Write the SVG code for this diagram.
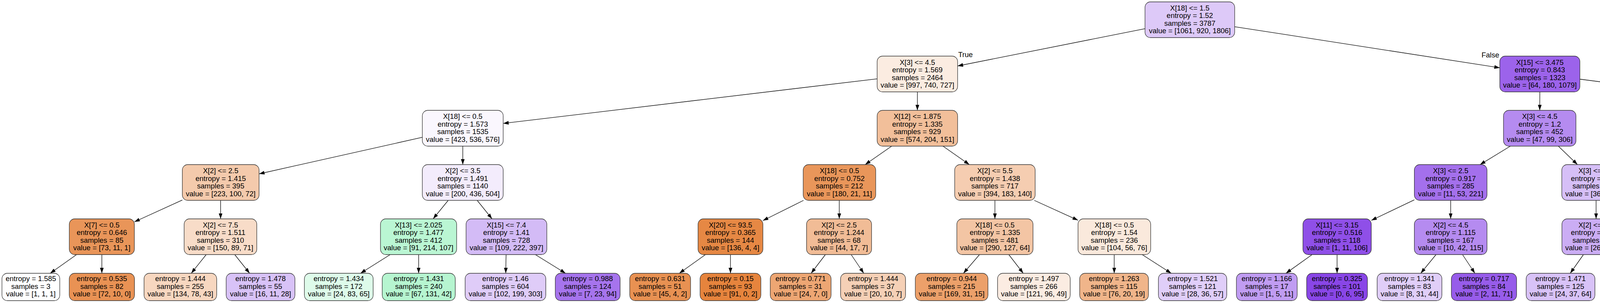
<svg xmlns="http://www.w3.org/2000/svg" width="5756" height="775" viewBox="0 0 5756 775">
<style>
.n rect{stroke:#333333;stroke-width:1.3}
text{font-family:"Liberation Sans",Arial,Helvetica,sans-serif;font-size:18.5px;text-anchor:middle;fill:#000000}
.lbl{text-anchor:start}
.lblr{text-anchor:end}
#edges line{stroke:#000000;stroke-width:1.3;marker-end:url(#arr)}
</style>
<defs>
<marker id="arr" markerUnits="userSpaceOnUse" markerWidth="14" markerHeight="10" refX="14" refY="4.75" orient="auto">
<path d="M0,0 L14,4.75 L0,9.5 z" fill="#000000"/>
</marker>
</defs>
<rect x="0" y="0" width="5756" height="775" fill="#ffffff"/>
<g id="edges">
<line x1="2931.25" y1="73.33" x2="2451.5" y2="168.76"/>
<line x1="3160.75" y1="68.27" x2="3839.5" y2="173.38"/>
<line x1="2245.5" y1="201.53" x2="1288.2" y2="315.66"/>
<line x1="2348.5" y1="235" x2="2348.5" y2="282.25"/>
<line x1="3942" y1="235" x2="3941.7" y2="282.25"/>
<line x1="4044.5" y1="202.5" x2="4921.7" y2="315.91"/>
<line x1="1081.2" y1="351.17" x2="663.25" y2="444.75"/>
<line x1="1184.7" y1="373.75" x2="1184.7" y2="421"/>
<line x1="2282.7" y1="373.75" x2="2214.8" y2="421"/>
<line x1="2413.95" y1="373.75" x2="2481.55" y2="421"/>
<line x1="3866.5" y1="373.75" x2="3788.9" y2="421"/>
<line x1="3989.3" y1="373.75" x2="4038.4" y2="421"/>
<line x1="5015.2" y1="373.75" x2="5015.2" y2="421"/>
<line x1="5108.7" y1="355.58" x2="5402.6" y2="442.27"/>
<line x1="466.75" y1="511.55" x2="344" y2="567.52"/>
<line x1="564.7" y1="512.5" x2="564.7" y2="559.75"/>
<line x1="1147.4" y1="512.5" x2="1108.8" y2="559.75"/>
<line x1="1221.56" y1="512.5" x2="1259.64" y2="559.75"/>
<line x1="2057" y1="512.5" x2="1953" y2="564.22"/>
<line x1="2148.5" y1="512.5" x2="2148.5" y2="559.75"/>
<line x1="2547" y1="512.5" x2="2547" y2="559.75"/>
<line x1="2647.8" y1="512.5" x2="2759.7" y2="563.29"/>
<line x1="3620.7" y1="511.14" x2="3510.5" y2="563.74"/>
<line x1="3713.7" y1="512.5" x2="3713.7" y2="559.75"/>
<line x1="4086" y1="512.5" x2="4086" y2="559.75"/>
<line x1="4173.75" y1="510.23" x2="4288.2" y2="566.95"/>
<line x1="4981.17" y1="512.5" x2="4946.03" y2="559.75"/>
<line x1="5049.1" y1="512.5" x2="5084.1" y2="559.75"/>
<line x1="5485.6" y1="512.5" x2="5485.6" y2="559.75"/>
<line x1="5545.3" y1="512.5" x2="5621" y2="570.5"/>
<line x1="196" y1="651.25" x2="128.49" y2="699"/>
<line x1="260.7" y1="651.25" x2="260.7" y2="699"/>
<line x1="527.84" y1="651.25" x2="489.67" y2="699"/>
<line x1="600.93" y1="651.25" x2="639.06" y2="699"/>
<line x1="998.8" y1="651.25" x2="922.92" y2="699"/>
<line x1="1071.7" y1="651.25" x2="1071.7" y2="699"/>
<line x1="1295.6" y1="651.25" x2="1294.7" y2="699"/>
<line x1="1370.55" y1="651.25" x2="1447.85" y2="699"/>
<line x1="1805.91" y1="651.25" x2="1739.03" y2="699"/>
<line x1="1870" y1="651.25" x2="1870" y2="699"/>
<line x1="2113" y1="651.25" x2="2076.47" y2="699"/>
<line x1="2178.97" y1="651.25" x2="2211.3" y2="699"/>
<line x1="2507.55" y1="651.25" x2="2466.38" y2="699"/>
<line x1="2582.5" y1="651.25" x2="2619.54" y2="699"/>
<line x1="2852.4" y1="651.25" x2="2852.4" y2="699"/>
<line x1="2924.01" y1="651.25" x2="2998.44" y2="699"/>
<line x1="3358.91" y1="651.25" x2="3291.97" y2="699"/>
<line x1="3422.9" y1="651.25" x2="3422.9" y2="699"/>
<line x1="3676.21" y1="651.25" x2="3637.08" y2="699"/>
<line x1="3744.07" y1="651.25" x2="3775.77" y2="699"/>
<line x1="4053.6" y1="651.25" x2="4019.79" y2="699"/>
<line x1="4121.6" y1="651.25" x2="4158.76" y2="699"/>
<line x1="4366" y1="651.25" x2="4366" y2="699"/>
<line x1="4428.59" y1="651.25" x2="4493.92" y2="699"/>
<line x1="4846.13" y1="651.25" x2="4777.39" y2="699"/>
<line x1="4915.85" y1="651.25" x2="4919.86" y2="699"/>
<line x1="5114.7" y1="651.25" x2="5111.2" y2="699"/>
<line x1="5182.44" y1="651.25" x2="5249.7" y2="699"/>
<line x1="5485.8" y1="651.25" x2="5485.8" y2="699"/>
<line x1="5550.29" y1="651.25" x2="5617.81" y2="699"/>
<text class="lbl" x="2453" y="146">True</text>
<text class="lblr" x="3838" y="147">False</text>
</g>
<g id="n0" class="n"><rect x="2931.25" y="4.75" width="229.5" height="91.5" rx="14" fill="#ddc9f8"/><text x="3046" y="26.8"><tspan x="3046">X[18] &lt;= 1.5</tspan><tspan x="3046" dy="19.5">entropy = 1.52</tspan><tspan x="3046" dy="19.5">samples = 3787</tspan><tspan x="3046" dy="19.5">value = [1061, 920, 1806]</tspan></text></g>
<g id="n1" class="n"><rect x="2245.5" y="143.5" width="206" height="91.5" rx="14" fill="#fbece1"/><text x="2348.5" y="165.55"><tspan x="2348.5">X[3] &lt;= 4.5</tspan><tspan x="2348.5" dy="19.5">entropy = 1.569</tspan><tspan x="2348.5" dy="19.5">samples = 2464</tspan><tspan x="2348.5" dy="19.5">value = [997, 740, 727]</tspan></text></g>
<g id="n2" class="n"><rect x="3839.5" y="143.5" width="205" height="91.5" rx="14" fill="#9c63eb"/><text x="3942" y="165.55"><tspan x="3942">X[15] &lt;= 3.475</tspan><tspan x="3942" dy="19.5">entropy = 0.843</tspan><tspan x="3942" dy="19.5">samples = 1323</tspan><tspan x="3942" dy="19.5">value = [64, 180, 1079]</tspan></text></g>
<g id="n3" class="n"><rect x="1081.2" y="282.25" width="207" height="91.5" rx="14" fill="#faf7fe"/><text x="1184.7" y="304.3"><tspan x="1184.7">X[18] &lt;= 0.5</tspan><tspan x="1184.7" dy="19.5">entropy = 1.573</tspan><tspan x="1184.7" dy="19.5">samples = 1535</tspan><tspan x="1184.7" dy="19.5">value = [423, 536, 576]</tspan></text></g>
<g id="n4" class="n"><rect x="2245.5" y="282.25" width="206" height="91.5" rx="14" fill="#f2bf9a"/><text x="2348.5" y="304.3"><tspan x="2348.5">X[12] &lt;= 1.875</tspan><tspan x="2348.5" dy="19.5">entropy = 1.335</tspan><tspan x="2348.5" dy="19.5">samples = 929</tspan><tspan x="2348.5" dy="19.5">value = [574, 204, 151]</tspan></text></g>
<g id="n5" class="n"><rect x="3848.95" y="282.25" width="185.5" height="91.5" rx="14" fill="#b58bf0"/><text x="3941.7" y="304.3"><tspan x="3941.7">X[3] &lt;= 4.5</tspan><tspan x="3941.7" dy="19.5">entropy = 1.2</tspan><tspan x="3941.7" dy="19.5">samples = 452</tspan><tspan x="3941.7" dy="19.5">value = [47, 99, 306]</tspan></text></g>
<g id="n6" class="n"><rect x="4921.7" y="282.25" width="187" height="91.5" rx="14" fill="#9152e8"/><text x="5015.2" y="304.3"><tspan x="5015.2">X[11] &lt;= 4.55</tspan><tspan x="5015.2" dy="19.5">entropy = 0.582</tspan><tspan x="5015.2" dy="19.5">samples = 871</tspan><tspan x="5015.2" dy="19.5">value = [17, 81, 773]</tspan></text></g>
<g id="n7" class="n"><rect x="466.75" y="421" width="196.5" height="91.5" rx="14" fill="#f4caac"/><text x="565" y="443.05"><tspan x="565">X[2] &lt;= 2.5</tspan><tspan x="565" dy="19.5">entropy = 1.415</tspan><tspan x="565" dy="19.5">samples = 395</tspan><tspan x="565" dy="19.5">value = [223, 100, 72]</tspan></text></g>
<g id="n8" class="n"><rect x="1081.2" y="421" width="207" height="91.5" rx="14" fill="#f3ecfc"/><text x="1184.7" y="443.05"><tspan x="1184.7">X[2] &lt;= 3.5</tspan><tspan x="1184.7" dy="19.5">entropy = 1.491</tspan><tspan x="1184.7" dy="19.5">samples = 1140</tspan><tspan x="1184.7" dy="19.5">value = [200, 436, 504]</tspan></text></g>
<g id="n9" class="n"><rect x="2056.2" y="421" width="185.6" height="91.5" rx="14" fill="#e9965a"/><text x="2149" y="443.05"><tspan x="2149">X[18] &lt;= 0.5</tspan><tspan x="2149" dy="19.5">entropy = 0.752</tspan><tspan x="2149" dy="19.5">samples = 212</tspan><tspan x="2149" dy="19.5">value = [180, 21, 11]</tspan></text></g>
<g id="n10" class="n"><rect x="2444" y="421" width="206" height="91.5" rx="14" fill="#f5cdb1"/><text x="2547" y="443.05"><tspan x="2547">X[2] &lt;= 5.5</tspan><tspan x="2547" dy="19.5">entropy = 1.438</tspan><tspan x="2547" dy="19.5">samples = 717</tspan><tspan x="2547" dy="19.5">value = [394, 183, 140]</tspan></text></g>
<g id="n11" class="n"><rect x="3620.7" y="421" width="186" height="91.5" rx="14" fill="#a470ec"/><text x="3713.7" y="443.05"><tspan x="3713.7">X[3] &lt;= 2.5</tspan><tspan x="3713.7" dy="19.5">entropy = 0.917</tspan><tspan x="3713.7" dy="19.5">samples = 285</tspan><tspan x="3713.7" dy="19.5">value = [11, 53, 221]</tspan></text></g>
<g id="n12" class="n"><rect x="3998.25" y="421" width="175.5" height="91.5" rx="14" fill="#d6bff7"/><text x="4086" y="443.05"><tspan x="4086">X[3] &lt;= 8.5</tspan><tspan x="4086" dy="19.5">entropy = 1.486</tspan><tspan x="4086" dy="19.5">samples = 167</tspan><tspan x="4086" dy="19.5">value = [36, 46, 85]</tspan></text></g>
<g id="n13" class="n"><rect x="4921.7" y="421" width="187" height="91.5" rx="14" fill="#975bea"/><text x="5015.2" y="443.05"><tspan x="5015.2">X[2] &lt;= 4.5</tspan><tspan x="5015.2" dy="19.5">entropy = 0.722</tspan><tspan x="5015.2" dy="19.5">samples = 603</tspan><tspan x="5015.2" dy="19.5">value = [17, 75, 511]</tspan></text></g>
<g id="n14" class="n"><rect x="5402.6" y="421" width="166" height="91.5" rx="14" fill="#843ee6"/><text x="5485.6" y="443.05"><tspan x="5485.6">X[4] &lt;= 20.5</tspan><tspan x="5485.6" dy="19.5">entropy = 0.155</tspan><tspan x="5485.6" dy="19.5">samples = 268</tspan><tspan x="5485.6" dy="19.5">value = [0, 6, 262]</tspan></text></g>
<g id="n15" class="n"><rect x="177.4" y="559.75" width="166.6" height="91.5" rx="14" fill="#e99559"/><text x="260.7" y="581.8"><tspan x="260.7">X[7] &lt;= 0.5</tspan><tspan x="260.7" dy="19.5">entropy = 0.646</tspan><tspan x="260.7" dy="19.5">samples = 85</tspan><tspan x="260.7" dy="19.5">value = [73, 11, 1]</tspan></text></g>
<g id="n16" class="n"><rect x="471.4" y="559.75" width="186" height="91.5" rx="14" fill="#f8dcc8"/><text x="564.4" y="581.8"><tspan x="564.4">X[2] &lt;= 7.5</tspan><tspan x="564.4" dy="19.5">entropy = 1.511</tspan><tspan x="564.4" dy="19.5">samples = 310</tspan><tspan x="564.4" dy="19.5">value = [150, 89, 71]</tspan></text></g>
<g id="n17" class="n"><rect x="974" y="559.75" width="195" height="91.5" rx="14" fill="#baf6d3"/><text x="1071.5" y="581.8"><tspan x="1071.5">X[13] &lt;= 2.025</tspan><tspan x="1071.5" dy="19.5">entropy = 1.477</tspan><tspan x="1071.5" dy="19.5">samples = 412</tspan><tspan x="1071.5" dy="19.5">value = [91, 214, 107]</tspan></text></g>
<g id="n18" class="n"><rect x="1193.15" y="559.75" width="206.7" height="91.5" rx="14" fill="#d3bbf6"/><text x="1296.5" y="581.8"><tspan x="1296.5">X[15] &lt;= 7.4</tspan><tspan x="1296.5" dy="19.5">entropy = 1.41</tspan><tspan x="1296.5" dy="19.5">samples = 728</tspan><tspan x="1296.5" dy="19.5">value = [109, 222, 397]</tspan></text></g>
<g id="n19" class="n"><rect x="1787" y="559.75" width="166" height="91.5" rx="14" fill="#e68844"/><text x="1870" y="581.8"><tspan x="1870">X[20] &lt;= 93.5</tspan><tspan x="1870" dy="19.5">entropy = 0.365</tspan><tspan x="1870" dy="19.5">samples = 144</tspan><tspan x="1870" dy="19.5">value = [136, 4, 4]</tspan></text></g>
<g id="n20" class="n"><rect x="2064.75" y="559.75" width="166.5" height="91.5" rx="14" fill="#f1bc96"/><text x="2148" y="581.8"><tspan x="2148">X[2] &lt;= 2.5</tspan><tspan x="2148" dy="19.5">entropy = 1.244</tspan><tspan x="2148" dy="19.5">samples = 68</tspan><tspan x="2148" dy="19.5">value = [44, 17, 7]</tspan></text></g>
<g id="n21" class="n"><rect x="2449.5" y="559.75" width="195" height="91.5" rx="14" fill="#f3c5a4"/><text x="2547" y="581.8"><tspan x="2547">X[18] &lt;= 0.5</tspan><tspan x="2547" dy="19.5">entropy = 1.335</tspan><tspan x="2547" dy="19.5">samples = 481</tspan><tspan x="2547" dy="19.5">value = [290, 127, 64]</tspan></text></g>
<g id="n22" class="n"><rect x="2759.7" y="559.75" width="186" height="91.5" rx="14" fill="#fae9dc"/><text x="2852.7" y="581.8"><tspan x="2852.7">X[18] &lt;= 0.5</tspan><tspan x="2852.7" dy="19.5">entropy = 1.54</tspan><tspan x="2852.7" dy="19.5">samples = 236</tspan><tspan x="2852.7" dy="19.5">value = [104, 56, 76]</tspan></text></g>
<g id="n23" class="n"><rect x="3335.5" y="559.75" width="175" height="91.5" rx="14" fill="#8f4fe8"/><text x="3423" y="581.8"><tspan x="3423">X[11] &lt;= 3.15</tspan><tspan x="3423" dy="19.5">entropy = 0.516</tspan><tspan x="3423" dy="19.5">samples = 118</tspan><tspan x="3423" dy="19.5">value = [1, 11, 106]</tspan></text></g>
<g id="n24" class="n"><rect x="3620.7" y="559.75" width="186" height="91.5" rx="14" fill="#b58bf0"/><text x="3713.7" y="581.8"><tspan x="3713.7">X[2] &lt;= 4.5</tspan><tspan x="3713.7" dy="19.5">entropy = 1.115</tspan><tspan x="3713.7" dy="19.5">samples = 167</tspan><tspan x="3713.7" dy="19.5">value = [10, 42, 115]</tspan></text></g>
<g id="n25" class="n"><rect x="3998.5" y="559.75" width="175" height="91.5" rx="14" fill="#cbadf4"/><text x="4086" y="581.8"><tspan x="4086">X[2] &lt;= 6.5</tspan><tspan x="4086" dy="19.5">entropy = 1.412</tspan><tspan x="4086" dy="19.5">samples = 147</tspan><tspan x="4086" dy="19.5">value = [26, 38, 83]</tspan></text></g>
<g id="n26" class="n"><rect x="4288.2" y="559.75" width="155.6" height="91.5" rx="14" fill="#fbeade"/><text x="4366" y="581.8"><tspan x="4366">X[1] &lt;= 28.0</tspan><tspan x="4366" dy="19.5">entropy = 1.361</tspan><tspan x="4366" dy="19.5">samples = 20</tspan><tspan x="4366" dy="19.5">value = [10, 8, 2]</tspan></text></g>
<g id="n27" class="n"><rect x="4819" y="559.75" width="186" height="91.5" rx="14" fill="#aa79ed"/><text x="4912" y="581.8"><tspan x="4912">X[3] &lt;= 4.5</tspan><tspan x="4912" dy="19.5">entropy = 1.045</tspan><tspan x="4912" dy="19.5">samples = 173</tspan><tspan x="4912" dy="19.5">value = [12, 33, 128]</tspan></text></g>
<g id="n28" class="n"><rect x="5030.3" y="559.75" width="175.4" height="91.5" rx="14" fill="#9051e8"/><text x="5118" y="581.8"><tspan x="5118">X[6] &lt;= 0.5</tspan><tspan x="5118" dy="19.5">entropy = 0.551</tspan><tspan x="5118" dy="19.5">samples = 430</tspan><tspan x="5118" dy="19.5">value = [5, 42, 383]</tspan></text></g>
<g id="n29" class="n"><rect x="5402.6" y="559.75" width="166" height="91.5" rx="14" fill="#823be5"/><text x="5485.6" y="581.8"><tspan x="5485.6">X[2] &lt;= 2.5</tspan><tspan x="5485.6" dy="19.5">entropy = 0.065</tspan><tspan x="5485.6" dy="19.5">samples = 260</tspan><tspan x="5485.6" dy="19.5">value = [0, 2, 258]</tspan></text></g>
<g id="n30" class="n"><rect x="5593.4" y="570.5" width="146.6" height="70" rx="14" fill="#ffffff"/><text x="5666.7" y="590.5"><tspan x="5666.7">entropy = 1.0</tspan><tspan x="5666.7" dy="19.6">samples = 8</tspan><tspan x="5666.7" dy="19.6">value = [0, 4, 4]</tspan></text></g>
<g id="l1" class="n"><rect x="5" y="699" width="148" height="70" rx="14" fill="#ffffff"/><text x="79" y="719"><tspan x="79">entropy = 1.585</tspan><tspan x="79" dy="19.6">samples = 3</tspan><tspan x="79" dy="19.6">value = [1, 1, 1]</tspan></text></g>
<g id="l2" class="n"><rect x="177.3" y="699" width="167" height="70" rx="14" fill="#e99254"/><text x="260.8" y="719"><tspan x="260.8">entropy = 0.535</tspan><tspan x="260.8" dy="19.6">samples = 82</tspan><tspan x="260.8" dy="19.6">value = [72, 10, 0]</tspan></text></g>
<g id="l3" class="n"><rect x="368.7" y="699" width="186" height="70" rx="14" fill="#f7d7c0"/><text x="461.7" y="719"><tspan x="461.7">entropy = 1.444</tspan><tspan x="461.7" dy="19.6">samples = 255</tspan><tspan x="461.7" dy="19.6">value = [134, 78, 43]</tspan></text></g>
<g id="l4" class="n"><rect x="579" y="699" width="176" height="70" rx="14" fill="#d8c2f7"/><text x="667" y="719"><tspan x="667">entropy = 1.478</tspan><tspan x="667" dy="19.6">samples = 55</tspan><tspan x="667" dy="19.6">value = [16, 11, 28]</tspan></text></g>
<g id="l5" class="n"><rect x="779.3" y="699" width="176" height="70" rx="14" fill="#defbea"/><text x="867.3" y="719"><tspan x="867.3">entropy = 1.434</tspan><tspan x="867.3" dy="19.6">samples = 172</tspan><tspan x="867.3" dy="19.6">value = [24, 83, 65]</tspan></text></g>
<g id="l6" class="n"><rect x="978.5" y="699" width="187" height="70" rx="14" fill="#b6f5d0"/><text x="1072" y="719"><tspan x="1072">entropy = 1.431</tspan><tspan x="1072" dy="19.6">samples = 240</tspan><tspan x="1072" dy="19.6">value = [67, 131, 42]</tspan></text></g>
<g id="l7" class="n"><rect x="1190.7" y="699" width="206.6" height="70" rx="14" fill="#dfccf8"/><text x="1294" y="719"><tspan x="1294">entropy = 1.46</tspan><tspan x="1294" dy="19.6">samples = 604</tspan><tspan x="1294" dy="19.6">value = [102, 199, 303]</tspan></text></g>
<g id="l8" class="n"><rect x="1421.5" y="699" width="166" height="70" rx="14" fill="#a674ed"/><text x="1504.5" y="719"><tspan x="1504.5">entropy = 0.988</tspan><tspan x="1504.5" dy="19.6">samples = 124</tspan><tspan x="1504.5" dy="19.6">value = [7, 23, 94]</tspan></text></g>
<g id="l9" class="n"><rect x="1612.15" y="699" width="155.7" height="70" rx="14" fill="#e89152"/><text x="1690" y="719"><tspan x="1690">entropy = 0.631</tspan><tspan x="1690" dy="19.6">samples = 51</tspan><tspan x="1690" dy="19.6">value = [45, 4, 2]</tspan></text></g>
<g id="l10" class="n"><rect x="1792.2" y="699" width="155.6" height="70" rx="14" fill="#e6843d"/><text x="1870" y="719"><tspan x="1870">entropy = 0.15</tspan><tspan x="1870" dy="19.6">samples = 93</tspan><tspan x="1870" dy="19.6">value = [91, 0, 2]</tspan></text></g>
<g id="l11" class="n"><rect x="1971.85" y="699" width="155.7" height="70" rx="14" fill="#eda673"/><text x="2049.7" y="719"><tspan x="2049.7">entropy = 0.771</tspan><tspan x="2049.7" dy="19.6">samples = 31</tspan><tspan x="2049.7" dy="19.6">value = [24, 7, 0]</tspan></text></g>
<g id="l12" class="n"><rect x="2151.8" y="699" width="166.4" height="70" rx="14" fill="#f5d0b6"/><text x="2235" y="719"><tspan x="2235">entropy = 1.444</tspan><tspan x="2235" dy="19.6">samples = 37</tspan><tspan x="2235" dy="19.6">value = [20, 10, 7]</tspan></text></g>
<g id="l13" class="n"><rect x="2343.2" y="699" width="186" height="70" rx="14" fill="#eca06a"/><text x="2436.2" y="719"><tspan x="2436.2">entropy = 0.944</tspan><tspan x="2436.2" dy="19.6">samples = 215</tspan><tspan x="2436.2" dy="19.6">value = [169, 31, 15]</tspan></text></g>
<g id="l14" class="n"><rect x="2553.7" y="699" width="186" height="70" rx="14" fill="#fbece2"/><text x="2646.7" y="719"><tspan x="2646.7">entropy = 1.497</tspan><tspan x="2646.7" dy="19.6">samples = 266</tspan><tspan x="2646.7" dy="19.6">value = [121, 96, 49]</tspan></text></g>
<g id="l15" class="n"><rect x="2764" y="699" width="176" height="70" rx="14" fill="#f0b58a"/><text x="2852" y="719"><tspan x="2852">entropy = 1.263</tspan><tspan x="2852" dy="19.6">samples = 115</tspan><tspan x="2852" dy="19.6">value = [76, 20, 19]</tspan></text></g>
<g id="l16" class="n"><rect x="2965.5" y="699" width="175" height="70" rx="14" fill="#e0cef9"/><text x="3053" y="719"><tspan x="3053">entropy = 1.521</tspan><tspan x="3053" dy="19.6">samples = 121</tspan><tspan x="3053" dy="19.6">value = [28, 36, 57]</tspan></text></g>
<g id="l17" class="n"><rect x="3165.2" y="699" width="155.6" height="70" rx="14" fill="#c09cf2"/><text x="3243" y="719"><tspan x="3243">entropy = 1.166</tspan><tspan x="3243" dy="19.6">samples = 17</tspan><tspan x="3243" dy="19.6">value = [1, 5, 11]</tspan></text></g>
<g id="l18" class="n"><rect x="3345" y="699" width="155.6" height="70" rx="14" fill="#8946e7"/><text x="3422.8" y="719"><tspan x="3422.8">entropy = 0.325</tspan><tspan x="3422.8" dy="19.6">samples = 101</tspan><tspan x="3422.8" dy="19.6">value = [0, 6, 95]</tspan></text></g>
<g id="l19" class="n"><rect x="3525.5" y="699" width="165.8" height="70" rx="14" fill="#e0cef8"/><text x="3608.4" y="719"><tspan x="3608.4">entropy = 1.341</tspan><tspan x="3608.4" dy="19.6">samples = 83</tspan><tspan x="3608.4" dy="19.6">value = [8, 31, 44]</tspan></text></g>
<g id="l20" class="n"><rect x="3715.5" y="699" width="167" height="70" rx="14" fill="#975cea"/><text x="3799" y="719"><tspan x="3799">entropy = 0.717</tspan><tspan x="3799" dy="19.6">samples = 84</tspan><tspan x="3799" dy="19.6">value = [2, 11, 71]</tspan></text></g>
<g id="l21" class="n"><rect x="3907" y="699" width="176" height="70" rx="14" fill="#d8c2f7"/><text x="3995" y="719"><tspan x="3995">entropy = 1.471</tspan><tspan x="3995" dy="19.6">samples = 125</tspan><tspan x="3995" dy="19.6">value = [24, 37, 64]</tspan></text></g>
<g id="l22" class="n"><rect x="4108.5" y="699" width="155" height="70" rx="14" fill="#9457e9"/><text x="4186" y="719"><tspan x="4186">entropy = 0.7</tspan><tspan x="4186" dy="19.6">samples = 22</tspan><tspan x="4186" dy="19.6">value = [2, 1, 19]</tspan></text></g>
<g id="l23" class="n"><rect x="4288.2" y="699" width="155.6" height="70" rx="14" fill="#fae6d7"/><text x="4366" y="719"><tspan x="4366">entropy = 0.991</tspan><tspan x="4366" dy="19.6">samples = 18</tspan><tspan x="4366" dy="19.6">value = [10, 8, 0]</tspan></text></g>
<g id="l24" class="n"><rect x="4468.8" y="699" width="146" height="70" rx="14" fill="#8139e5"/><text x="4541.8" y="719"><tspan x="4541.8">entropy = 0.0</tspan><tspan x="4541.8" dy="19.6">samples = 2</tspan><tspan x="4541.8" dy="19.6">value = [0, 0, 2]</tspan></text></g>
<g id="l25" class="n"><rect x="4639" y="699" width="176" height="70" rx="14" fill="#9a61ea"/><text x="4727" y="719"><tspan x="4727">entropy = 0.78</tspan><tspan x="4727" dy="19.6">samples = 128</tspan><tspan x="4727" dy="19.6">value = [4, 18, 106]</tspan></text></g>
<g id="l26" class="n"><rect x="4839.55" y="699" width="166.5" height="70" rx="14" fill="#e2d1f9"/><text x="4922.8" y="719"><tspan x="4922.8">entropy = 1.476</tspan><tspan x="4922.8" dy="19.6">samples = 45</tspan><tspan x="4922.8" dy="19.6">value = [8, 15, 22]</tspan></text></g>
<g id="l27" class="n"><rect x="5030.9" y="699" width="155.6" height="70" rx="14" fill="#8b49e7"/><text x="5108.7" y="719"><tspan x="5108.7">entropy = 0.384</tspan><tspan x="5108.7" dy="19.6">samples = 40</tspan><tspan x="5108.7" dy="19.6">value = [3, 0, 37]</tspan></text></g>
<g id="l28" class="n"><rect x="5211.35" y="699" width="175.3" height="70" rx="14" fill="#9152e8"/><text x="5299" y="719"><tspan x="5299">entropy = 0.538</tspan><tspan x="5299" dy="19.6">samples = 390</tspan><tspan x="5299" dy="19.6">value = [2, 42, 346]</tspan></text></g>
<g id="l29" class="n"><rect x="5412.35" y="699" width="147.3" height="70" rx="14" fill="#ab7bee"/><text x="5486" y="719"><tspan x="5486">entropy = 0.811</tspan><tspan x="5486" dy="19.6">samples = 4</tspan><tspan x="5486" dy="19.6">value = [0, 1, 3]</tspan></text></g>
<g id="l30" class="n"><rect x="5583.8" y="699" width="167" height="70" rx="14" fill="#813ae5"/><text x="5667.3" y="719"><tspan x="5667.3">entropy = 0.037</tspan><tspan x="5667.3" dy="19.6">samples = 256</tspan><tspan x="5667.3" dy="19.6">value = [0, 1, 255]</tspan></text></g>
</svg>
